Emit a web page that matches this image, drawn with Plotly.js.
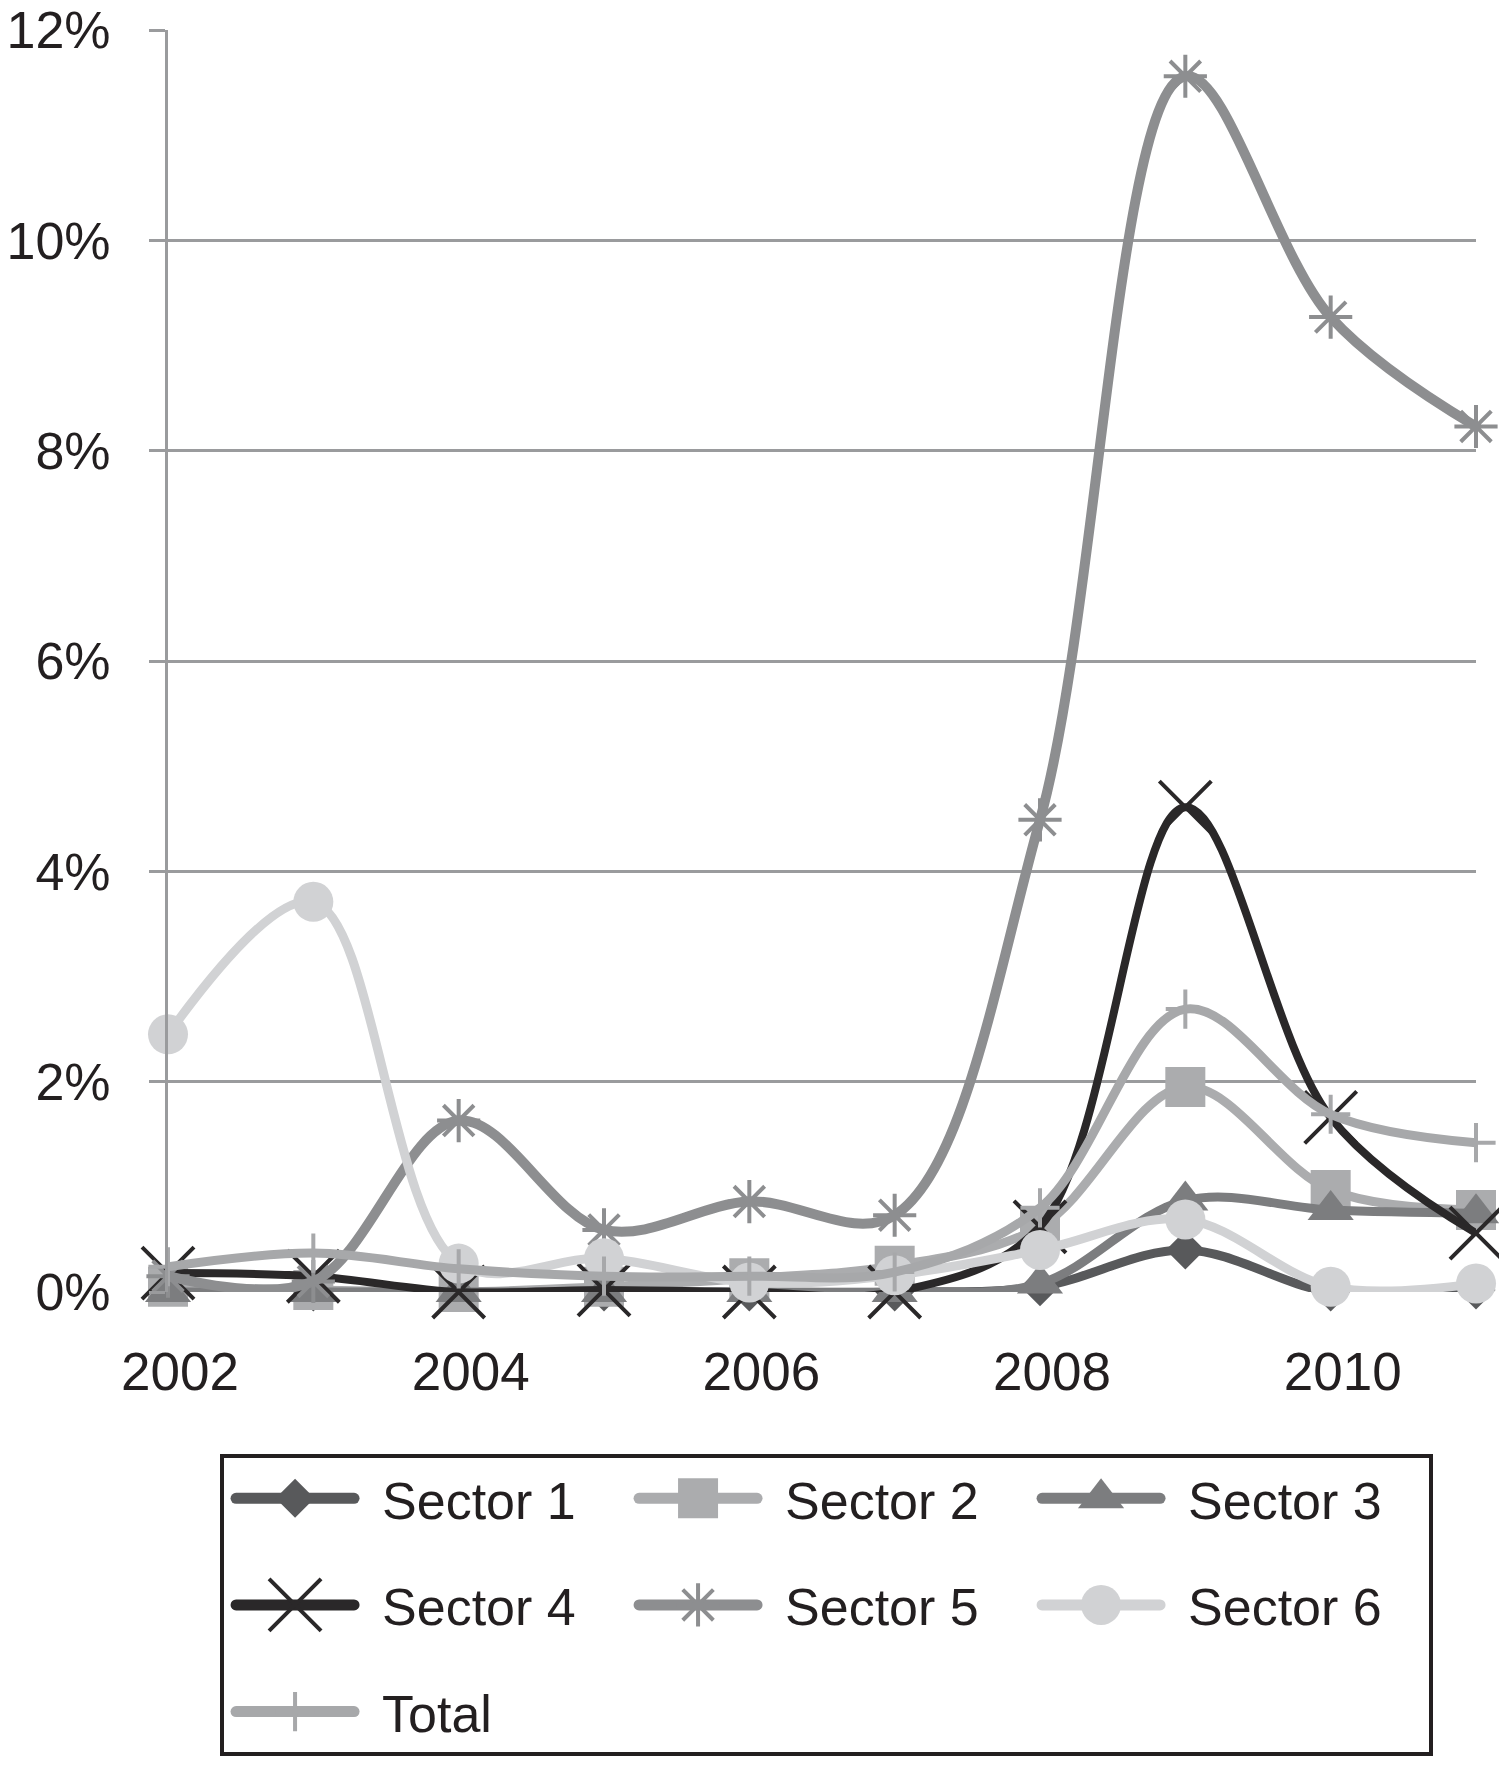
<!DOCTYPE html>
<html>
<head>
<meta charset="utf-8">
<script src="https://cdn.plot.ly/plotly-3.0.1.min.js"></script>
<style>html,body{margin:0;padding:0;background:#fff;}#chart{width:1499px;height:1771px;}</style>
</head>
<body>
<div id="chart"></div>
<script>
const years = [2002, 2003, 2004, 2005, 2006, 2007, 2008, 2009, 2010, 2011];
const xTickVals = [2002, 2004, 2006, 2008, 2010];
const yTickVals = [0, 0.02, 0.04, 0.06, 0.08, 0.10, 0.12];

const sector1 = [0.0005, 0.0, 0.0, 0.0, 0.0, 0.0, 0.0005, 0.0040, 0.0, 0.0002];
const sector2 = [0.0005, 0.0002, 0.0, 0.0005, 0.0013, 0.0025, 0.0062, 0.0195, 0.0097, 0.0078];
const sector3 = [0.0, 0.0, 0.0, 0.0, 0.0, 0.0, 0.0008, 0.0087, 0.0078, 0.0075];
const sector4 = [0.0018, 0.0015, 0.0, 0.0002, 0.0, 0.0, 0.0062, 0.0461, 0.0166, 0.0056];
const sector5 = [0.0015, 0.0010, 0.0163, 0.0059, 0.0086, 0.0073, 0.0449, 0.1156, 0.0927, 0.0823];
const sector6 = [0.0245, 0.0371, 0.0027, 0.0032, 0.0009, 0.0016, 0.0040, 0.0069, 0.0005, 0.0008];
const total   = [0.0024, 0.0037, 0.0022, 0.0015, 0.0015, 0.0019, 0.0080, 0.0269, 0.0169, 0.0142];

const seriesNames = ['Sector 1', 'Sector 2', 'Sector 3', 'Sector 4', 'Sector 5', 'Sector 6', 'Total'];
const seriesValues = [sector1, sector2, sector3, sector4, sector5, sector6, total];

const styles = [
  {color: '#58595b', symbol: 'diamond', size: 30, lw: 0, width: 9},
  {color: '#abacae', symbol: 'square', size: 40, lw: 0, width: 9},
  {color: '#7c7d7f', symbol: 'triangle-up', size: 40, lw: 0, width: 9},
  {color: '#2a2829', symbol: 'x-thin-open', size: 52, lw: 4, width: 8},
  {color: '#8d8e90', symbol: 'asterisk-open', size: 36, lw: 4, width: 10},
  {color: '#d1d2d4', symbol: 'circle', size: 40, lw: 0, width: 9},
  {color: '#a7a8aa', symbol: 'cross-thin-open', size: 28, lw: 4, width: 9}
];

const traces = seriesNames.map((name, i) => {
  const s = styles[i];
  return {
    type: 'scatter',
    mode: 'lines+markers',
    x: years,
    y: seriesValues[i],
    name: name,
    legendgroup: 'g' + i,
    line: {color: s.color, width: s.width, shape: 'spline', smoothing: 1},
    marker: {
      symbol: s.symbol,
      size: s.size,
      color: s.color,
      line: {color: s.color, width: s.lw}
    },
    cliponaxis: false
  };
});

const fontFamily = '"Liberation Sans", Arial, Helvetica, sans-serif';

const layout = {
  width: 1499,
  height: 1771,
  margin: {l: 168, r: 23, t: 30, b: 479},
  paper_bgcolor: '#ffffff',
  plot_bgcolor: '#ffffff',
  font: {family: fontFamily, size: 52, color: '#231f20'},
  showlegend: true,
  xaxis: {
    range: [2002, 2011],
    tickvals: xTickVals,
    ticktext: xTickVals.map(String),
    showgrid: false,
    zeroline: false,
    showline: false,
    ticks: '',
    ticklabelstandoff: 44,
    ticklabelshift: 12,
    tickfont: {family: fontFamily, size: 53, color: '#231f20'}
  },
  yaxis: {
    range: [0, 0.12],
    tickvals: yTickVals,
    tickformat: '.0%',
    showgrid: true,
    gridcolor: '#9a9b9d',
    gridwidth: 3,
    zeroline: false,
    showline: true,
    linecolor: '#9a9b9d',
    linewidth: 3,
    ticks: 'outside',
    ticklen: 16,
    tickwidth: 3,
    tickcolor: '#9a9b9d',
    ticklabelstandoff: 28,
    tickfont: {family: fontFamily, size: 52, color: '#231f20'}
  },
  legend: {
    orientation: 'h',
    traceorder: 'grouped',
    tracegroupgap: 36,
    x: 0.0398,
    xanchor: 'left',
    y: -0.1284,
    yanchor: 'top',
    itemwidth: 118,
    entrywidth: 270,
    bgcolor: '#ffffff',
    bordercolor: '#231f20',
    borderwidth: 4,
    font: {family: fontFamily, size: 52, color: '#231f20'}
  }
};

Plotly.newPlot('chart', traces, layout, {displayModeBar: false, staticPlot: true}).then(function (gd) {
  // Enlarge legend symbols (Plotly caps them at 16px) and space the legend text like the reference.
  try {
    gd.querySelectorAll('.legend g.traces').forEach(function (g) {
      var d = g.__data__;
      if (!d || !d[0] || !d[0].trace) return;
      var idx = d[0].trace.index;
      var s = styles[idx];
      var k = s.size / 16;
      g.querySelectorAll('path.scatterpts').forEach(function (p) {
        var t = p.getAttribute('transform') || '';
        p.setAttribute('transform', 'translate(11,0) ' + t + ' scale(' + k + ')');
        if (s.lw > 0) {
          p.style.vectorEffect = 'non-scaling-stroke';
          p.style.strokeWidth = s.lw + 'px';
        }
      });
      g.querySelectorAll('.legendlines path').forEach(function (p) {
        p.setAttribute('transform', 'translate(11,0)');
        p.style.strokeLinecap = 'round';
        p.style.strokeWidth = '11px';
      });
      var txt = g.querySelector('text.legendtext');
      if (txt) txt.setAttribute('transform', 'translate(34,0)');
    });
  } catch (e) { /* leave default legend */ }
});
</script>
</body>
</html>
